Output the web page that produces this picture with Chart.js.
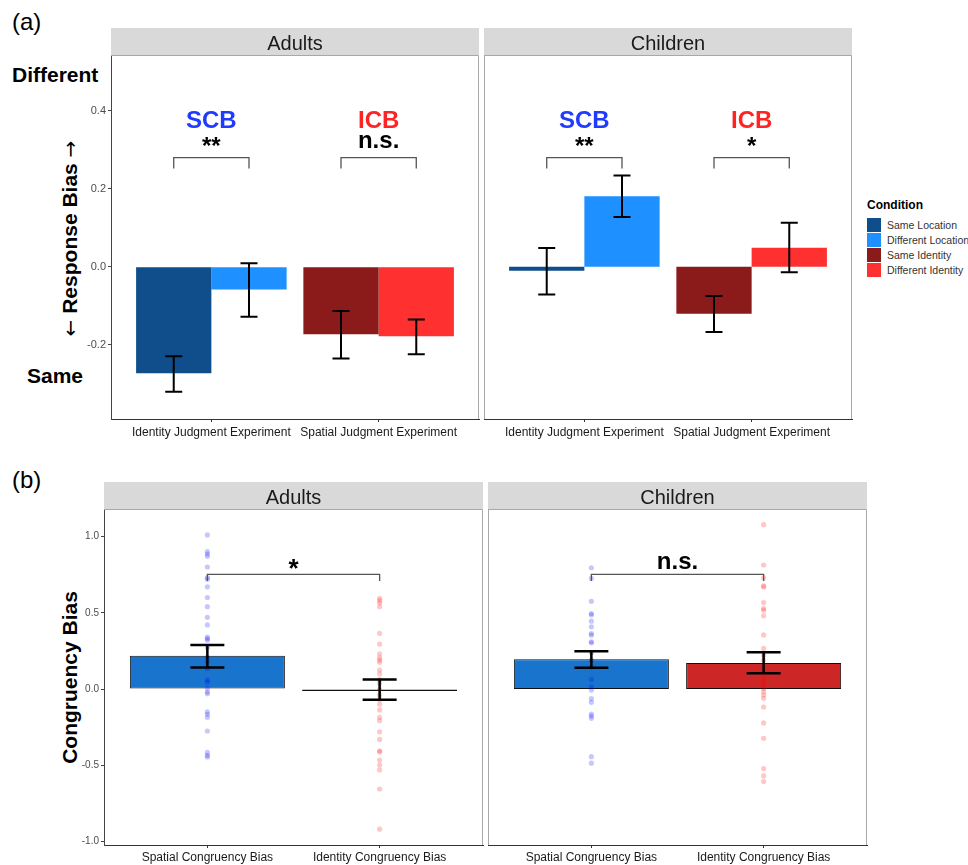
<!DOCTYPE html>
<html>
<head>
<meta charset="utf-8">
<title>Response bias and congruency bias</title>
<script src="https://cdn.jsdelivr.net/npm/chart.js@4.4.1/dist/chart.umd.min.js"></script>
<style>
	body { margin: 0; background: #fff; font-family: "Liberation Sans", Arial, sans-serif; }
	#page { position: relative; width: 968px; height: 865px; overflow: hidden; background: #fff; }
	canvas { position: absolute; }
	.txt { position: absolute; white-space: nowrap; color: #000; }
	.bold { font-weight: bold; }
	.ytitle { position: absolute; width: 300px; height: 21px; line-height: 21px; font-size: 21px; font-weight: bold; text-align: center; white-space: nowrap; transform: rotate(-90deg); }
	.arrow { font-family: "DejaVu Sans", sans-serif; font-weight: normal; font-size: 20px; }
	#legend { position: absolute; left: 867px; top: 198px; white-space: nowrap; }
	#legend .head { font-size: 12px; font-weight: bold; line-height: 14px; margin-bottom: 5px; color: #000; }
	#legend .row { height: 15px; display: flex; align-items: center; font-size: 10.5px; color: #333; }
	#legend .sw { width: 14px; height: 14px; margin-right: 6px; }
</style>
</head>
<body>
<div id="page">
	<div class="txt" style="left:12px; top:10px; font-size:24px; line-height:24px;">(a)</div>
	<div class="txt bold" style="left:12px; top:64px; font-size:21px; line-height:21px;">Different</div>
	<div class="txt bold" style="left:27px; top:365px; font-size:21px; line-height:21px;">Same</div>
	<div class="ytitle" style="left:-81px; top:228px;"><span class="arrow">←</span> Response Bias <span class="arrow">→</span></div>

	<div class="txt" style="left:12px; top:468px; font-size:24px; line-height:24px;">(b)</div>
	<div class="ytitle" style="left:-81px; top:667px;">Congruency Bias</div>

	<canvas id="a-adults" width="425" height="417" style="left:55px; top:28px;"></canvas>
	<canvas id="a-children" width="369" height="417" style="left:484px; top:28px;"></canvas>
	<canvas id="b-adults" width="434" height="383" style="left:50px; top:482px;"></canvas>
	<canvas id="b-children" width="380" height="383" style="left:488px; top:482px;"></canvas>

	<div id="legend"></div>
</div>

<script>
// ---- (a) response bias ----
const experiments = ["Identity Judgment Experiment", "Spatial Judgment Experiment"];
const conditions = ["Same Location", "Different Location", "Same Identity", "Different Identity"];
const conditionColors = ["#104e8b", "#1e90ff", "#8b1a1a", "#ff3030"];

// order: same location, different location, same identity, different identity
const adultsBias = [-0.273, -0.058, -0.173, -0.178];
const adultsBiasLow = [-0.320, -0.128, -0.235, -0.224];
const adultsBiasHigh = [-0.229, 0.009, -0.113, -0.135];

const childrenBias = [-0.010, 0.181, -0.120, 0.049];
const childrenBiasLow = [-0.071, 0.128, -0.167, -0.014];
const childrenBiasHigh = [0.048, 0.234, -0.075, 0.113];

const biasTicks = [-0.2, 0, 0.2, 0.4];

// ---- (b) congruency bias ----
const biasTypes = ["Spatial Congruency Bias", "Identity Congruency Bias"];
const biasColors = ["#1874cd", "#cd2626"];
const pointColors = ["rgba(0,0,255,0.22)", "rgba(255,0,0,0.22)"];

const adultsCong = [0.218, -0.003];
const adultsCongLow = [0.142, -0.070];
const adultsCongHigh = [0.288, 0.063];

const childrenCong = [0.195, 0.170];
const childrenCongLow = [0.140, 0.103];
const childrenCongHigh = [0.247, 0.242];

const congTicks = [-1, -0.5, 0, 0.5, 1];

const adultsSpatialPts = [1.01, 0.90, 0.885, 0.87, 0.80, 0.73, 0.72, 0.67, 0.60, 0.54, 0.47, 0.42, 0.34, 0.33, 0.32, 0.27, 0.21, 0.18, 0.135, 0.06, 0.045, 0.005, -0.02, -0.03, -0.15, -0.165, -0.185, -0.275, -0.415, -0.435, -0.445];
const adultsIdentityPts = [0.595, 0.58, 0.565, 0.54, 0.365, 0.295, 0.23, 0.205, 0.19, 0.175, 0.125, 0.10, 0.063, 0.037, -0.002, -0.04, -0.07, -0.10, -0.137, -0.185, -0.207, -0.28, -0.33, -0.405, -0.412, -0.465, -0.497, -0.53, -0.655, -0.918];
const childrenSpatialPts = [0.795, 0.725, 0.575, 0.495, 0.486, 0.445, 0.408, 0.364, 0.353, 0.31, 0.303, 0.238, 0.19, 0.146, 0.063, 0.015, -0.007, -0.063, -0.087, -0.164, -0.177, -0.192, -0.443, -0.486];
const childrenIdentityPts = [1.077, 0.813, 0.728, 0.676, 0.669, 0.567, 0.528, 0.517, 0.48, 0.355, 0.266, 0.222, 0.19, 0.146, 0.113, 0.07, 0.048, 0.026, 0.004, -0.017, -0.039, -0.061, -0.118, -0.222, -0.323, -0.521, -0.569, -0.606];

Chart.defaults.font.family = "'Liberation Sans', Arial, sans-serif";

const FONT = "'Liberation Sans', Arial, sans-serif";

// black error bars on top of bars, read from dataset.errLow / errHigh
const errorBarPlugin = {
	id: "errorBars",
	afterDatasetsDraw(chart, args, opts) {
		const ctx = chart.ctx;
		const yScale = chart.scales.y;
		ctx.save();
		ctx.strokeStyle = "#000";
		ctx.lineWidth = opts.lineWidth;
		chart.data.datasets.forEach(function (ds, d) {
			if (!ds.errLow) return;
			const meta = chart.getDatasetMeta(d);
			meta.data.forEach(function (bar, i) {
				const lo = yScale.getPixelForValue(ds.errLow[i]);
				const hi = yScale.getPixelForValue(ds.errHigh[i]);
				ctx.beginPath();
				ctx.moveTo(bar.x, lo);
				ctx.lineTo(bar.x, hi);
				ctx.moveTo(bar.x - opts.cap, lo);
				ctx.lineTo(bar.x + opts.cap, lo);
				ctx.moveTo(bar.x - opts.cap, hi);
				ctx.lineTo(bar.x + opts.cap, hi);
				ctx.stroke();
			});
		});
		ctx.restore();
	},
};

// facet strip, panel frame, significance brackets and labels
const facetPlugin = {
	id: "facet",
	afterDraw(chart, args, opts) {
		const ctx = chart.ctx;
		const a = chart.chartArea;
		const xs = chart.scales.x;
		const ys = chart.scales.y;
		ctx.save();

		ctx.fillStyle = "#d9d9d9";
		ctx.fillRect(a.left, a.top - 27, a.right - a.left, 27);
		ctx.fillStyle = "#1a1a1a";
		ctx.font = "20px " + FONT;
		ctx.textAlign = "center";
		ctx.textBaseline = "alphabetic";
		ctx.fillText(opts.title, (a.left + a.right) / 2, a.top - 5.5);

		ctx.strokeStyle = "#a8a8a8";
		ctx.lineWidth = 1;
		ctx.beginPath();
		ctx.moveTo(a.left, a.top + 0.5);
		ctx.lineTo(a.right - 0.5, a.top + 0.5);
		ctx.lineTo(a.right - 0.5, a.bottom);
		if (opts.drawLeft) {
			ctx.moveTo(a.left + 0.5, a.top);
			ctx.lineTo(a.left + 0.5, a.bottom);
		}
		ctx.stroke();

		ctx.strokeStyle = "#555";
		ctx.lineWidth = 1.3;
		opts.brackets.forEach(function (b) {
			const x1 = xs.getPixelForValue(b.x1);
			const x2 = xs.getPixelForValue(b.x2);
			const yt = ys.getPixelForValue(b.top);
			const ye = ys.getPixelForValue(b.end);
			ctx.beginPath();
			ctx.moveTo(x1, ye);
			ctx.lineTo(x1, yt);
			ctx.lineTo(x2, yt);
			ctx.lineTo(x2, ye);
			ctx.stroke();
		});

		opts.labels.forEach(function (l) {
			ctx.fillStyle = l.color || "#000";
			ctx.font = "bold " + (l.size || 24) + "px " + FONT;
			ctx.fillText(l.text, xs.getPixelForValue(l.x), ys.getPixelForValue(l.y));
		});
		ctx.restore();
	},
};

function buildScales(labels, yMin, yMax, yTicks, showY, yWidth, xHeight, yFont, xPad) {
	return {
		x: {
			type: "linear",
			min: 0.4,
			max: 2.6,
			offset: false,
			afterBuildTicks: function (s) {
				s.ticks = [{ value: 1 }, { value: 2 }];
			},
			afterFit: function (s) {
				s.height = xHeight;
			},
			grid: { offset: false, drawOnChartArea: false, tickLength: 3, color: "#333" },
			border: { display: true, color: "#333", width: 1 },
			ticks: {
				callback: function (v) {
					return labels[Math.round(v) - 1];
				},
				color: "#1a1a1a",
				font: { size: 12 },
				padding: xPad,
				maxRotation: 0,
				autoSkip: false,
			},
		},
		y: {
			type: "linear",
			display: showY,
			min: yMin,
			max: yMax,
			afterBuildTicks: function (s) {
				s.ticks = yTicks.map(function (v) {
					return { value: v };
				});
			},
			afterFit: function (s) {
				s.width = showY ? yWidth : 0;
			},
			grid: { drawOnChartArea: false, tickLength: 3, color: "#444" },
			border: { display: true, color: "#444", width: 1 },
			ticks: {
				callback: function (v) {
					return v.toFixed(1);
				},
				color: "#4d4d4d",
				font: { size: yFont },
				padding: 2,
			},
		},
	};
}

function responseChart(canvasId, title, means, low, high, showY, labels) {
	const groups = [
		[0, 2],
		[1, 3],
	];
	const datasets = groups.map(function (idx, g) {
		return {
			label: g === 0 ? "Same" : "Different",
			data: idx.map(function (c, i) {
				return { x: i + 1, y: means[c] };
			}),
			backgroundColor: idx.map(function (c) {
				return conditionColors[c];
			}),
			errLow: idx.map(function (c) {
				return low[c];
			}),
			errHigh: idx.map(function (c) {
				return high[c];
			}),
			borderWidth: 0,
			categoryPercentage: 0.9,
			barPercentage: 1,
		};
	});

	const config = {
		type: "bar",
		data: { datasets: datasets },
		options: {
			responsive: false,
			animation: false,
			layout: { autoPadding: false, padding: { top: 27, right: 1, left: 0, bottom: 0 } },
			scales: buildScales(experiments, -0.39, 0.543, biasTicks, showY, 56, 26, 11, 3),
			plugins: {
				legend: { display: false },
				tooltip: { enabled: false },
				errorBars: { lineWidth: 2, cap: 8.5 },
				facet: {
					title: title,
					drawLeft: !showY,
					brackets: [
						{ x1: 0.775, x2: 1.225, top: 0.28, end: 0.252 },
						{ x1: 1.775, x2: 2.225, top: 0.28, end: 0.252 },
					],
					labels: labels,
				},
			},
		},
		plugins: [errorBarPlugin, facetPlugin],
	};
	return new Chart(document.getElementById(canvasId), config);
}

function congruencyChart(canvasId, title, means, low, high, spatialPts, identityPts, showY, labels) {
	const datasets = [
		{
			type: "scatter",
			data: spatialPts.map(function (v) {
				return { x: 1, y: v };
			}),
			pointRadius: 2.6,
			pointBackgroundColor: pointColors[0],
			pointBorderWidth: 0,
			order: 0,
		},
		{
			type: "scatter",
			data: identityPts.map(function (v) {
				return { x: 2, y: v };
			}),
			pointRadius: 2.6,
			pointBackgroundColor: pointColors[1],
			pointBorderWidth: 0,
			order: 0,
		},
		{
			type: "bar",
			data: means.map(function (v, i) {
				return { x: i + 1, y: v };
			}),
			backgroundColor: biasColors,
			borderColor: "#111",
			borderWidth: 1,
			borderSkipped: false,
			minBarLength: 2,
			errLow: low,
			errHigh: high,
			categoryPercentage: 0.9,
			barPercentage: 1,
			order: 1,
		},
	];

	const config = {
		type: "bar",
		data: { datasets: datasets },
		options: {
			responsive: false,
			animation: false,
			layout: { autoPadding: false, padding: { top: 27, right: 1, left: 0, bottom: 0 } },
			scales: buildScales(biasTypes, -1.022, 1.18, congTicks, showY, 54, 20, 10, 2),
			plugins: {
				legend: { display: false },
				tooltip: { enabled: false },
				errorBars: { lineWidth: 2.5, cap: 17 },
				facet: {
					title: title,
					drawLeft: !showY,
					brackets: [{ x1: 1, x2: 2, top: 0.751, end: 0.708 }],
					labels: labels,
				},
			},
		},
		plugins: [errorBarPlugin, facetPlugin],
	};
	return new Chart(document.getElementById(canvasId), config);
}

const SCB_BLUE = "#1f3bff";
const ICB_RED = "#ff2424";

responseChart("a-adults", "Adults", adultsBias, adultsBiasLow, adultsBiasHigh, true, [
	{ x: 1, y: 0.357, text: "SCB", color: SCB_BLUE },
	{ x: 1, y: 0.289, text: "**" },
	{ x: 2, y: 0.357, text: "ICB", color: ICB_RED },
	{ x: 2, y: 0.305, text: "n.s." },
]);

responseChart("a-children", "Children", childrenBias, childrenBiasLow, childrenBiasHigh, false, [
	{ x: 1, y: 0.357, text: "SCB", color: SCB_BLUE },
	{ x: 1, y: 0.289, text: "**" },
	{ x: 2, y: 0.357, text: "ICB", color: ICB_RED },
	{ x: 2, y: 0.289, text: "*" },
]);

congruencyChart("b-adults", "Adults", adultsCong, adultsCongLow, adultsCongHigh, adultsSpatialPts, adultsIdentityPts, true, [
	{ x: 1.5, y: 0.737, text: "*", size: 26 },
]);

congruencyChart("b-children", "Children", childrenCong, childrenCongLow, childrenCongHigh, childrenSpatialPts, childrenIdentityPts, false, [
	{ x: 1.5, y: 0.786, text: "n.s." },
]);

// legend for panel (a)
const legend = document.getElementById("legend");
let html = '<div class="head">Condition</div>';
conditions.forEach(function (name, i) {
	html += '<div class="row"><span class="sw" style="background:' + conditionColors[i] + '"></span>' + name + "</div>";
});
legend.innerHTML = html;
</script>
</body>
</html>
